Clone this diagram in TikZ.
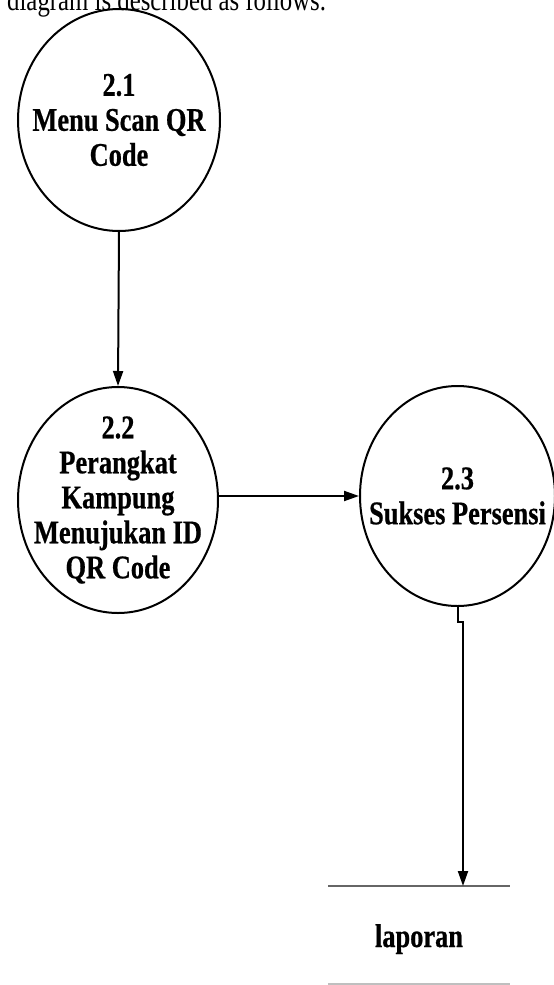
\documentclass[tikz,border=0pt]{standalone}
\usepackage{fontspec}
\setmainfont{Liberation Serif}[FakeStretch=0.8, BoldFeatures={FakeBold=0.6}]
\usetikzlibrary{shapes.geometric,arrows.meta}
\begin{document}
\begin{tikzpicture}[x=1pt,y=-1pt,
  proc/.style={ellipse, draw, line width=2pt, inner sep=0pt},
  proctext/.style={inner sep=0pt, align=center,
    font=\fontsize{33}{35}\selectfont\bfseries},
  flow/.style={line width=2pt, -{Triangle[length=15pt,width=10pt]}},
  storeline/.style={line width=1.4pt, draw=black!60},
  label/.style={inner sep=0pt, font=\fontsize{33}{35}\selectfont\bfseries}]
\useasboundingbox (0,0) rectangle (554,985);
\clip (0,0) rectangle (554,985);

% running text of the page, cut by the top edge
\node[anchor=base west, inner sep=0pt, font=\fontsize{31}{33}\selectfont]
  (intro) at (7,10) {diagram is described as follows.};

% processes: outline first, then the centred caption
\node[proc, minimum width=202pt, minimum height=222pt] (n21) at (119,120) {};
\node[proctext] (n21t) at (n21) {2.1\\Menu Scan QR\\Code};
\node[proc, minimum width=200pt, minimum height=226pt] (n22) at (118,500) {};
\node[proctext] (n22t) at (n22) {2.2\\Perangkat\\Kampung\\Menujukan ID\\QR Code};
\node[proc, minimum width=195pt, minimum height=220pt] (n23) at (457.5,496) {};
\node[proctext] (n23t) at (n23) {2.3\\Sukses Persensi};

% data store
\coordinate (stTL) at (328,886);
\coordinate (stTR) at (510,886);
\coordinate (stBL) at (328,984);
\coordinate (stBR) at (510,984);
\node[label, anchor=base] (store) at (419,947) {laporan};
\draw[storeline] (stTL) -- (stTR);
\draw[storeline, draw=black!25] (stBL) -- (stBR);

% flows
\draw[flow] (n21.south) -- (n22.north);
\draw[flow] (n22.east |- n23.west) -- (n23.west);
\coordinate (jogA) at (457.5,622);
\coordinate (jogB) at (463,622);
\draw[flow] (n23.south) -- (jogA) -- (jogB) -- (jogB |- stTL);
\end{tikzpicture}
\end{document}
